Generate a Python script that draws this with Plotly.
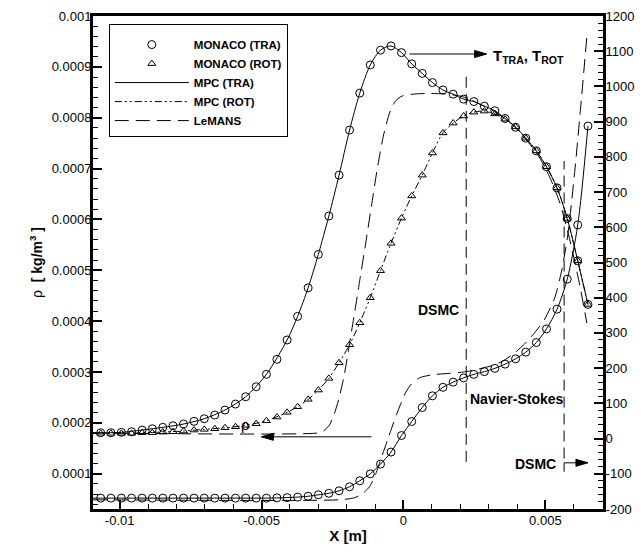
import plotly.graph_objects as go

# ---------------- data ----------------
# MONACO sample locations [m]
monaco_x = [-0.01067, -0.01031, -0.00994, -0.00958, -0.00921, -0.00885, -0.00848, -0.00812,
            -0.00775, -0.00738, -0.00702, -0.00665, -0.00629, -0.00592, -0.00556, -0.00519,
            -0.00483, -0.00446, -0.00410, -0.00373, -0.00336, -0.00300, -0.00263, -0.00227,
            -0.00190, -0.00154, -0.00117, -0.00081, -0.00044, -0.00007, 0.00029, 0.00066,
            0.00102, 0.00139, 0.00175, 0.00212, 0.00248, 0.00285, 0.00322, 0.00358,
            0.00395, 0.00431, 0.00468, 0.00504, 0.00541, 0.00577, 0.00614, 0.00650]

# density [kg/m^3]
monaco_rho = [5.22e-5, 5.22e-5, 5.22e-5, 5.22e-5, 5.22e-5, 5.22e-5, 5.22e-5, 5.22e-5,
              5.22e-5, 5.22e-5, 5.22e-5, 5.22e-5, 5.22e-5, 5.22e-5, 5.22e-5, 5.22e-5,
              5.22e-5, 5.28e-5, 5.32e-5, 5.42e-5, 5.58e-5, 5.87e-5, 6.17e-5, 6.66e-5,
              7.45e-5, 8.63e-5, 1.000e-4, 1.191e-4, 1.427e-4, 1.753e-4, 2.028e-4, 2.303e-4,
              2.533e-4, 2.700e-4, 2.802e-4, 2.886e-4, 2.955e-4, 3.008e-4, 3.073e-4, 3.156e-4,
              3.260e-4, 3.392e-4, 3.580e-4, 3.849e-4, 4.236e-4, 4.826e-4, 5.893e-4, 7.838e-4]

# translational temperature [K]
monaco_ttra = [16.6, 16.6, 17.7, 19.4, 24.2, 27.9, 31.9, 36.4, 41.3, 48.9, 56.3, 66.8,
               81, 98, 118.8, 147.2, 182.4, 225, 280, 347, 428, 523, 632, 748,
               876, 981, 1061, 1103, 1115, 1096, 1064, 1037, 1011, 990, 978, 964,
               957, 944, 931, 909, 884, 853, 817, 772, 712, 625, 505, 381]

# rotational temperature [K]
monaco_trot = [14.9, 14.9, 14.9, 14.9, 16.6, 16.6, 18.6, 19.4, 21.4, 24.2, 26.2, 27.9,
               30.7, 33.6, 37.5, 42.1, 50.6, 61.2, 74.5, 90.4, 111.4, 137.8, 171, 215.4,
               266.5, 329, 400, 476.7, 554.5, 626, 689, 748, 811, 868, 896, 916,
               927, 930, 922, 907, 885, 853, 817, 772, 712, 625, 505, 381]

# MPC (hybrid) solution
mpc_x = [-0.01094, -0.01067, -0.00994, -0.00921, -0.00848, -0.00775, -0.00702, -0.00629,
         -0.00556, -0.00483, -0.00410, -0.00373, -0.00336, -0.00300, -0.00263, -0.00227,
         -0.00190, -0.00154, -0.00117, -0.00081, -0.00044, -0.00007, 0.00029, 0.00066,
         0.00102, 0.00139, 0.00175, 0.00212, 0.00248, 0.00285, 0.00322, 0.00358,
         0.00395, 0.00431, 0.00468, 0.00504, 0.00541, 0.00577, 0.00614, 0.00650]
mpc_rho = [5.22e-5, 5.22e-5, 5.22e-5, 5.22e-5, 5.22e-5, 5.22e-5, 5.22e-5, 5.22e-5,
           5.22e-5, 5.22e-5, 5.32e-5, 5.42e-5, 5.58e-5, 5.87e-5, 6.17e-5, 6.66e-5,
           7.45e-5, 8.63e-5, 1.000e-4, 1.191e-4, 1.427e-4, 1.753e-4, 2.028e-4, 2.303e-4,
           2.533e-4, 2.700e-4, 2.802e-4, 2.886e-4, 2.955e-4, 3.008e-4, 3.073e-4, 3.156e-4,
           3.260e-4, 3.392e-4, 3.580e-4, 3.849e-4, 4.236e-4, 4.826e-4, 5.893e-4, 7.838e-4]
mpc_ttra = [16.6, 16.6, 17.7, 24.2, 31.9, 41.3, 56.3, 81,
            118.8, 182.4, 280, 347, 428, 523, 632, 748,
            876, 981, 1061, 1103, 1115, 1096, 1064, 1037,
            1011, 990, 978, 964, 957, 944, 931, 909,
            884, 853, 817, 772, 712, 625, 505, 381]
mpc_trot = [14.9, 14.9, 14.9, 16.6, 18.6, 21.4, 26.2, 30.7,
            37.5, 50.6, 74.5, 90.4, 111.4, 137.8, 171, 215.4,
            266.5, 329, 400, 476.7, 554.5, 626, 689, 748,
            811, 868, 896, 916, 927, 930, 922, 907,
            885, 853, 817, 772, 712, 625, 505, 381]

# LeMANS (Navier-Stokes) solution
lemans_t_x = [-0.01094, -0.00304, -0.00282, -0.00261, -0.00244, -0.00226, -0.00208, -0.00191,
              -0.00173, -0.00155, -0.00134, -0.00113, -0.00092, -0.00071, -0.00049, -0.00028,
              -0.00004, 0.00039, 0.00092, 0.00145, 0.00198, 0.00233, 0.00268, 0.00304,
              0.00339, 0.00374, 0.00409, 0.00445, 0.00480, 0.00515, 0.00551, 0.00586,
              0.00621, 0.00646]
lemans_t = [15.7, 15.7, 21.4, 38.4, 69.7, 118, 183, 266,
            354, 445, 550, 660, 768, 859, 925, 959,
            973, 978.5, 980, 978.5, 973, 964, 950, 936,
            919, 899, 871, 836, 797, 743, 669, 564,
            436, 328]
lemans_rho_x = [-0.01094, -0.00226, -0.00173, -0.00145, -0.00120, -0.00099, -0.00078, -0.00056,
                -0.00035, -0.00014, 0.00007, 0.00028, 0.00056, 0.00099, 0.00162, 0.00215,
                0.00268, 0.00321, 0.00357, 0.00392, 0.00427, 0.00462, 0.00498, 0.00533,
                0.00558, 0.00579, 0.00604, 0.00625, 0.00646]
lemans_rho = [4.89e-5, 4.89e-5, 5.28e-5, 6.07e-5, 7.45e-5, 9.80e-5, 1.314e-4, 1.668e-4,
              2.002e-4, 2.317e-4, 2.592e-4, 2.768e-4, 2.886e-4, 2.945e-4, 2.975e-4, 3.004e-4,
              3.063e-4, 3.142e-4, 3.240e-4, 3.378e-4, 3.555e-4, 3.771e-4, 4.046e-4, 4.459e-4,
              5.009e-4, 5.697e-4, 6.974e-4, 8.251e-4, 9.587e-4]

# region boundaries [m]
boundary_x = [0.00221, 0.00566]

x_tickvals = [-0.01, -0.005, 0, 0.005]
x_ticktext = ["-0.01", "-0.005", "0", "0.005"]
t_tickvals = [-200, -100, 0, 100, 200, 300, 400, 500, 600, 700, 800, 900, 1000, 1100, 1200]
t_ticktext = ["-200", "-100", "0", "100", "200", "300", "400", "500", "600", "700",
              "800", "900", "1000", "1100", "1200"]

FONT = "Liberation Sans, Arial, Helvetica, sans-serif"

fig = go.Figure()

mk_c = dict(symbol="circle-open", size=8, color="black", line=dict(width=1, color="black"))
mk_t = dict(symbol="triangle-up-open", size=7, color="black", line=dict(width=1, color="black"))
dashdotdot = "7px,3px,2px,3px,2px,3px"
longdash = "14px,7px"

# legend-bearing (temperature) traces on the right axis
fig.add_trace(go.Scatter(x=monaco_x, y=monaco_ttra, yaxis="y2", mode="markers", marker=mk_c,
                         name="MONACO (TRA)", legendgroup="a"))
fig.add_trace(go.Scatter(x=monaco_x, y=monaco_trot, yaxis="y2", mode="markers", marker=mk_t,
                         name="MONACO (ROT)", legendgroup="b"))
fig.add_trace(go.Scatter(x=mpc_x, y=mpc_ttra, yaxis="y2", mode="lines",
                         line=dict(color="black", width=1, shape="spline", smoothing=0.8),
                         name="MPC (TRA)", legendgroup="c"))
fig.add_trace(go.Scatter(x=mpc_x, y=mpc_trot, yaxis="y2", mode="lines",
                         line=dict(color="black", width=1, dash=dashdotdot, shape="spline", smoothing=0.8),
                         name="MPC (ROT)", legendgroup="d"))
fig.add_trace(go.Scatter(x=lemans_t_x, y=lemans_t, yaxis="y2", mode="lines",
                         line=dict(color="black", width=1, dash=longdash, shape="spline", smoothing=0.6),
                         name="LeMANS", legendgroup="e"))
# density traces on the left axis
fig.add_trace(go.Scatter(x=mpc_x, y=mpc_rho, mode="lines",
                         line=dict(color="black", width=1, shape="spline", smoothing=0.8),
                         name="MPC (TRA)", legendgroup="c", showlegend=False))
fig.add_trace(go.Scatter(x=monaco_x, y=monaco_rho, mode="markers", marker=mk_c,
                         name="MONACO (TRA)", legendgroup="a", showlegend=False))
fig.add_trace(go.Scatter(x=lemans_rho_x, y=lemans_rho, mode="lines",
                         line=dict(color="black", width=1, dash=longdash, shape="spline", smoothing=0.6),
                         name="LeMANS", legendgroup="e", showlegend=False))

PX_X = 1.0 / 28330.0      # metres per pixel (horizontal)
PX_Y = 0.0009 / 458.0     # kg/m^3 per pixel (vertical)


def arrow(x_tail, x_tip, y, hl=12, hw=3.5):
    """horizontal arrow: line + filled head (annotation graphics)"""
    d = 1 if x_tip > x_tail else -1
    xb = x_tip - d * hl * PX_X
    return [
        dict(type="line", xref="x", yref="y", x0=x_tail, x1=xb, y0=y, y1=y,
             line=dict(color="black", width=1)),
        dict(type="path", xref="x", yref="y",
             path=f"M {x_tip},{y} L {xb},{y + hw * PX_Y} L {xb},{y - hw * PX_Y} Z",
             fillcolor="black", line=dict(color="black", width=1)),
    ]


shapes = []
# boundaries between DSMC and Navier-Stokes regions
shapes.append(dict(type="line", xref="x", yref="y", x0=boundary_x[0], x1=boundary_x[0],
                   y0=0.0001236, y1=0.000888, line=dict(color="black", width=1, dash="11px,6px")))
shapes.append(dict(type="line", xref="x", yref="y", x0=boundary_x[1], x1=boundary_x[1],
                   y0=0.000130, y1=0.000715, line=dict(color="black", width=1, dash="11px,6px")))
shapes.append(dict(type="line", xref="x", yref="y", x0=boundary_x[1], x1=boundary_x[1],
                   y0=0.0001039, y1=0.0001216, line=dict(color="black", width=1)))
shapes += arrow(0.00021, 0.00293, 0.0009253)
shapes += arrow(-0.00113, -0.00501, 0.0001727)
shapes += arrow(boundary_x[1], 0.00650, 0.0001216)

bold = dict(family=FONT, size=14, color="black", weight=700)
ann = []
ann.append(dict(x=0.00307, y=0.000921, xref="x", yref="y", xanchor="left", yanchor="middle",
                text="<b>T<sub>TRA</sub>, T<sub>ROT</sub></b>", showarrow=False,
                font=dict(family=FONT, size=15, color="black", weight=700)))
ann.append(dict(x=-0.00558, y=0.000196, xref="x", yref="y", xanchor="center", yanchor="middle",
                text="ρ", showarrow=False, font=dict(family=FONT, size=15, color="black")))
ann.append(dict(x=0.00201, y=0.0004223, xref="x", yref="y", xanchor="right", yanchor="middle",
                text="<b>DSMC</b>", showarrow=False, font=bold))
ann.append(dict(x=0.00226, y=0.0002474, xref="x", yref="y", xanchor="left", yanchor="middle",
                text="<b>Navier-Stokes</b>", showarrow=False, font=bold))
ann.append(dict(x=0.00544, y=0.0001196, xref="x", yref="y", xanchor="right", yanchor="middle",
                text="<b>DSMC</b>", showarrow=False, font=bold))
# right axis title (mostly outside the page, as in the original)
ann.append(dict(x=1.0725, y=0.66, xref="paper", yref="paper", xanchor="left", yanchor="middle",
                text="<b>T [K]</b>", textangle=-90, showarrow=False,
                font=dict(family=FONT, size=13, color="black", weight=700)))

axis_common = dict(showline=True, linecolor="black", linewidth=3, ticks="inside",
                   tickcolor="black", tickwidth=2, ticklen=9, showgrid=False, zeroline=False,
                   automargin=False,
                   tickfont=dict(family=FONT, size=13, color="black"))

# the page body has an 8px default margin; margins compensate for it
fig.update_layout(
    width=643, height=555,
    margin=dict(l=85, r=48, t=8, b=54, autoexpand=False),
    paper_bgcolor="white", plot_bgcolor="white",
    font=dict(family=FONT, color="black"),
    showlegend=True,
    legend=dict(x=0.031, y=0.984, xanchor="left", yanchor="top", bgcolor="white",
                bordercolor="black", borderwidth=1, itemwidth=74,
                title=dict(text=" ", font=dict(family=FONT, size=4, color="black")),
                font=dict(family=FONT, size=11.5, color="black", weight=700),
                tracegroupgap=0),
    xaxis=dict(range=[-0.01094, 0.00703], tickmode="array", tickvals=x_tickvals,
               ticktext=x_ticktext, mirror=True, ticklabelstandoff=-3,
               minor=dict(dtick=0.001, tick0=0, ticks="inside", ticklen=5, tickwidth=1,
                          tickcolor="black"),
               title=dict(text="<b>X [m]</b>", font=dict(family=FONT, size=15, color="black"),
                          standoff=4),
               **axis_common),
    yaxis=dict(range=[0.0000308, 0.001], dtick=0.0001, tick0=0, tickformat=".4~f",
               ticklabelstandoff=-4,
               minor=dict(dtick=0.00002, tick0=0, ticks="inside", ticklen=5, tickwidth=1,
                          tickcolor="black"),
               title=dict(text="ρ  <b>[ kg/m<sup>3</sup> ]</b>",
                          font=dict(family=FONT, size=14, color="black"), standoff=6),
               **axis_common),
    yaxis2=dict(range=[-200, 1200], overlaying="y", side="right", tickmode="array",
                tickvals=t_tickvals, ticktext=t_ticktext, ticklabelstandoff=-3,
                minor=dict(dtick=20, tick0=0, ticks="inside", ticklen=5, tickwidth=1,
                           tickcolor="black"),
                **axis_common),
    shapes=shapes,
    annotations=ann,
)

fig.write_html("out.html")
